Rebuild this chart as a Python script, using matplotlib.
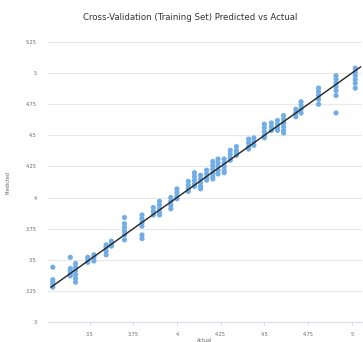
#!/usr/bin/env python3
import matplotlib
matplotlib.use("Agg")
import matplotlib.pyplot as plt
from matplotlib import font_manager

# actual value of each cluster and its predicted values
cluster_actual = [
    3.29, 3.39, 3.42, 3.49, 3.525, 3.595, 3.625, 3.70, 3.80, 3.865, 3.90,
    3.965, 4.00, 4.065, 4.10, 4.135, 4.17, 4.205, 4.235, 4.27, 4.305, 4.34,
    4.41, 4.44, 4.50, 4.54, 4.575, 4.61, 4.68, 4.71, 4.81, 4.91, 5.02,
]
cluster_predicted = [
    [3.44, 3.34, 3.32, 3.30, 3.28],
    [3.52, 3.43, 3.41, 3.39, 3.37],
    [3.47, 3.44, 3.41, 3.38, 3.35, 3.32],
    [3.52, 3.50, 3.48],
    [3.54, 3.52, 3.49],
    [3.62, 3.60, 3.57, 3.54],
    [3.65, 3.63, 3.61],
    [3.84, 3.79, 3.76, 3.73, 3.70, 3.66],
    [3.86, 3.83, 3.80, 3.77, 3.70, 3.67],
    [3.92, 3.89, 3.86],
    [3.97, 3.94, 3.91, 3.88, 3.86],
    [4.00, 3.97, 3.94, 3.91],
    [4.07, 4.04, 4.01, 3.99],
    [4.13, 4.10, 4.07, 4.05],
    [4.20, 4.17, 4.14, 4.11, 4.09],
    [4.18, 4.15, 4.12, 4.09, 4.07],
    [4.22, 4.19, 4.16, 4.14],
    [4.29, 4.26, 4.23, 4.20, 4.17, 4.15],
    [4.31, 4.28, 4.25, 4.22, 4.19],
    [4.31, 4.28, 4.25, 4.22, 4.20],
    [4.38, 4.35, 4.32, 4.30],
    [4.41, 4.38, 4.36, 4.34],
    [4.47, 4.44, 4.41, 4.39],
    [4.48, 4.45, 4.42],
    [4.59, 4.56, 4.53, 4.50, 4.48],
    [4.60, 4.57, 4.54],
    [4.62, 4.59, 4.56, 4.54],
    [4.66, 4.63, 4.60, 4.57, 4.54, 4.52],
    [4.71, 4.68, 4.65],
    [4.77, 4.74, 4.71, 4.68],
    [4.88, 4.85, 4.82, 4.79, 4.75],
    [4.98, 4.95, 4.92, 4.89, 4.86, 4.82, 4.68],
    [5.04, 5.01, 4.98, 4.95, 4.92, 4.88],
]

line_x = [3.28, 5.05]
line_y = [3.28, 5.05]

x_ticks = [3.5, 3.75, 4, 4.25, 4.5, 4.75, 5]
y_ticks = [3, 3.25, 3.5, 3.75, 4, 4.25, 4.5, 4.75, 5, 5.25]

installed = {f.name for f in font_manager.fontManager.ttflist}
font = "Liberation Sans Narrow" if "Liberation Sans Narrow" in installed else "DejaVu Sans"

xs = []
ys = []
for a, preds in zip(cluster_actual, cluster_predicted):
    for p in preds:
        xs.append(a)
        ys.append(p)

fig = plt.figure(figsize=(3.63, 3.42), dpi=100)
ax = fig.add_axes([0.132, 0.0585, 0.865, 0.8185])

ax.scatter(xs, ys, s=14, color="#72ade6", edgecolors="none", zorder=3)
ax.plot(line_x, line_y, color="#222222", linewidth=1.0, zorder=4)

ax.set_xlim(3.262, 5.058)
ax.set_ylim(3, 5.25)
ax.set_xticks(x_ticks)
ax.set_xticklabels([f"{t:g}" for t in x_ticks])
ax.set_yticks(y_ticks)
ax.set_yticklabels([f"{t:g}" for t in y_ticks])

ax.grid(True, axis="y", color="#e8e8e8", linewidth=0.8, zorder=0)
for s in ("top", "right", "left"):
    ax.spines[s].set_visible(False)
ax.spines["bottom"].set_color("#d8dde6")
ax.spines["bottom"].set_linewidth(0.8)

ax.tick_params(axis="y", length=0, pad=8, labelsize=3.5, labelcolor="#666666")
ax.tick_params(axis="x", length=3, width=0.6, color="#d8dde6", pad=4,
               labelsize=3.5, labelcolor="#666666")
for lbl in ax.get_xticklabels() + ax.get_yticklabels():
    lbl.set_family(font)

ax.set_ylabel("Predicted", fontsize=3.5, color="#666666", family=font, labelpad=11)
ax.set_xlabel("Actual", fontsize=3.5, color="#666666", family=font, labelpad=1)

fig.text(0.525, 0.95, "Cross-Validation (Training Set) Predicted vs Actual",
         ha="center", va="center", fontsize=6.2, color="#333333", family=font)

fig.savefig("out.png", dpi=100)
